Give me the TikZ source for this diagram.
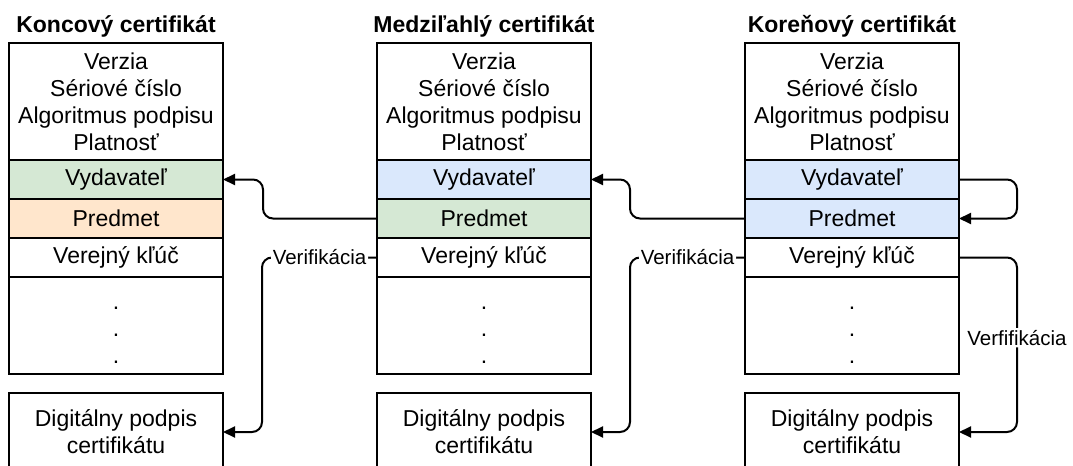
\documentclass[tikz,border=0pt]{standalone}
\usepackage{fontspec}
\setmainfont{Liberation Sans}
\usetikzlibrary{positioning,arrows.meta}
\definecolor{certgreen}{HTML}{D5E8D4}
\definecolor{certorange}{HTML}{FFE6CC}
\definecolor{certblue}{HTML}{DAE8FC}
\tikzset{
  cell/.style={draw, line width=1pt, minimum width=107pt, inner sep=0pt, outer sep=0pt, align=center},
  row/.style={cell, minimum height=19.5pt},
  head/.style={inner sep=0pt, font=\bfseries\fontsize{11.5}{13.5}\selectfont},
  link/.style={-{Triangle[length=6pt,width=5.5pt]}, line width=1pt, rounded corners=5pt},
  lbl/.style={fill=white, inner sep=1pt, font=\fontsize{10.25}{12}\selectfont}
}
\begin{document}
\begin{tikzpicture}[x=0.5pt,y=-0.5pt,font=\fontsize{11.5}{13.5}\selectfont]
  \useasboundingbox (0,0) rectangle (1073,466);
  % koncovy
  \node[cell, minimum height=58.5pt, anchor=north] (kTop) at (116,43) {Verzia\\Sériové číslo\\Algoritmus podpisu\\Platnosť};
  \node[row, fill=certgreen, below=0pt of kTop] (kIss) {Vydavateľ};
  \node[row, fill=certorange, below=0pt of kIss] (kSub) {Predmet};
  \node[row, below=0pt of kSub] (kKey) {Verejný kľúč};
  \node[cell, minimum height=48.5pt, below=0pt of kKey] (kEtc) {\rule{0pt}{11pt}.\\.\\.};
  \node[cell, minimum height=39pt, below=9.5pt of kEtc] (kSig) {Digitálny podpis\\certifikátu};
  \node[head, above=2.5pt of kTop] (kHead) {Koncový certifikát};
  % medzilahly
  \node[cell, minimum height=58.5pt, anchor=north] (mTop) at (484,43) {Verzia\\Sériové číslo\\Algoritmus podpisu\\Platnosť};
  \node[row, fill=certblue, below=0pt of mTop] (mIss) {Vydavateľ};
  \node[row, fill=certgreen, below=0pt of mIss] (mSub) {Predmet};
  \node[row, below=0pt of mSub] (mKey) {Verejný kľúč};
  \node[cell, minimum height=48.5pt, below=0pt of mKey] (mEtc) {\rule{0pt}{11pt}.\\.\\.};
  \node[cell, minimum height=39pt, below=9.5pt of mEtc] (mSig) {Digitálny podpis\\certifikátu};
  \node[head, above=2.5pt of mTop] (mHead) {Medziľahlý certifikát};
  % korenovy
  \node[cell, minimum height=58.5pt, anchor=north] (rTop) at (852,43) {Verzia\\Sériové číslo\\Algoritmus podpisu\\Platnosť};
  \node[row, fill=certblue, below=0pt of rTop] (rIss) {Vydavateľ};
  \node[row, fill=certblue, below=0pt of rIss] (rSub) {Predmet};
  \node[row, below=0pt of rSub] (rKey) {Verejný kľúč};
  \node[cell, minimum height=48.5pt, below=0pt of rKey] (rEtc) {\rule{0pt}{11pt}.\\.\\.};
  \node[cell, minimum height=39pt, below=9.5pt of rEtc] (rSig) {Digitálny podpis\\certifikátu};
  \node[head, above=2.5pt of rTop] (rHead) {Koreňový certifikát};
  % spojenia
  \draw[link] (mSub.west) -| ([xshift=20pt]kIss.east) -- (kIss.east);
  \draw[link] (rSub.west) -| ([xshift=19.5pt]mIss.east) -- (mIss.east);
  \draw[link] (mKey.west) -| node[lbl, pos=0.25] {Verifikácia} ([xshift=19.5pt]kSig.east) -- (kSig.east);
  \draw[link] (rKey.west) -| node[lbl, pos=0.25] {Verifikácia} ([xshift=19.5pt]mSig.east) -- (mSig.east);
  \draw[link] (rIss.east) -| ([xshift=29pt]rSub.east) -- (rSub.east); % sam sebe
  \draw[link] (rKey.east) -| node[lbl, pos=0.73] {Verfifikácia} ([xshift=29pt]rSig.east) -- (rSig.east);
\end{tikzpicture}
\end{document}
